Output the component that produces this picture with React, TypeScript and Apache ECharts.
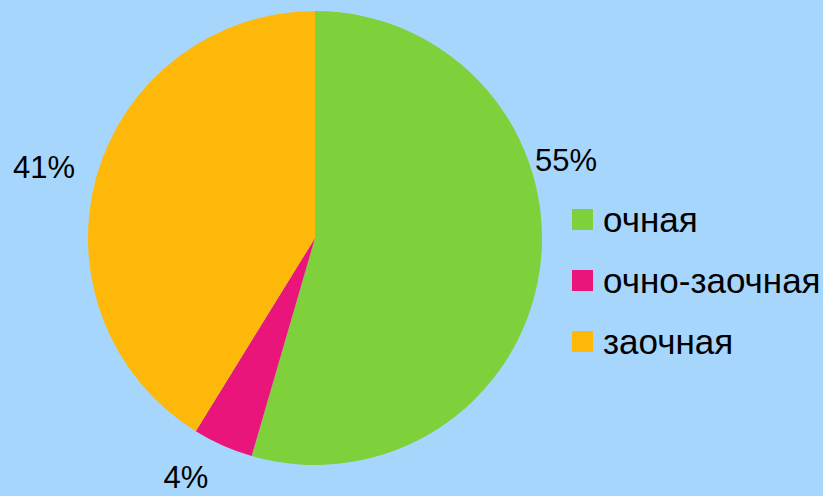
import React, { useEffect, useRef } from "react";
import * as echarts from "echarts";

const categories = ["очная", "очно-заочная", "заочная"];
const values = [54.5, 4.3, 41.2];
const colors = ["#7FD13B", "#EA157A", "#FEB80A"];
const labelPos: [number, number][] = [
  [566, 160],
  [186, 477],
  [44, 167],
];

const FONT = "'Liberation Sans', Arial, sans-serif";

export default function App() {
  const ref = useRef<HTMLDivElement>(null);
  useEffect(() => {
    if (!ref.current) return;
    const chart = echarts.init(ref.current, undefined, { renderer: "svg" });
    chart.setOption({
      animation: false,
      backgroundColor: "#A7D6FD",
      color: colors,
      legend: {
        orient: "vertical",
        left: 572,
        top: 202,
        padding: 0,
        itemWidth: 21,
        itemHeight: 21,
        itemGap: 26,
        icon: "rect",
        data: categories,
        textStyle: {
          fontFamily: FONT,
          fontSize: 35,
          color: "#000",
          lineHeight: 35,
          padding: [0, 0, 0, 5],
        },
      },
      series: [
        {
          type: "pie",
          center: [315, 238],
          radius: 227,
          startAngle: 90,
          clockwise: true,
          itemStyle: { borderWidth: 0 },
          label: {
            show: true,
            position: "outside",
            overflow: "none",
            formatter: (p: any) => Math.round(p.percent) + "%",
            fontFamily: FONT,
            fontSize: 31,
            lineHeight: 26,
            color: "#000",
          },
          labelLine: { show: false },
          labelLayout: (params: any) => ({
            x: labelPos[params.dataIndex][0],
            y: labelPos[params.dataIndex][1],
            align: "center",
            verticalAlign: "middle",
          }),
          data: categories.map((c, i) => ({ name: c, value: values[i] })),
        },
      ],
    });
    return () => chart.dispose();
  }, []);
  return (
    <div
      ref={ref}
      style={{ position: "fixed", left: 0, top: 0, width: 823, height: 496 }}
    />
  );
}
